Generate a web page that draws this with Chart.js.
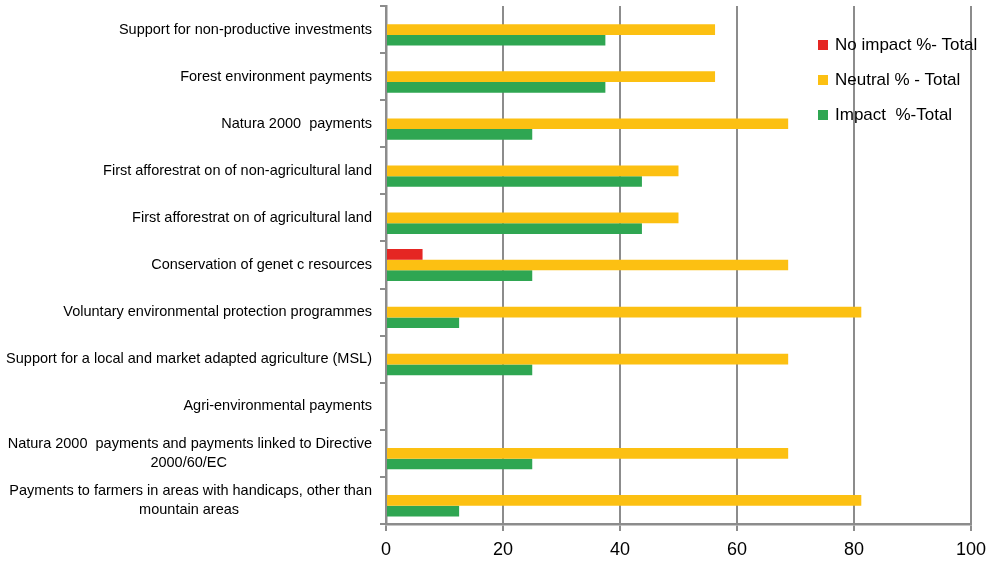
<!DOCTYPE html>
<html>
<head>
<meta charset="utf-8">
<script src="https://cdn.jsdelivr.net/npm/chart.js@4/dist/chart.umd.min.js"></script>
<style>
  html, body { margin: 0; padding: 0; background: #fff; }
  #wrap { position: relative; width: 994px; height: 567px; }
  #legend {
    position: absolute; left: 818px; top: 27px;
    font: 17px "Liberation Sans", Arial, sans-serif; color: #000;
  }
  #legend .item { height: 35px; display: flex; align-items: center; white-space: pre; }
  #legend .box { width: 10px; height: 10px; margin-right: 7px; }
</style>
</head>
<body>
<div id="wrap">
  <canvas id="myChart" width="994" height="567"></canvas>
  <div id="legend"></div>
</div>
<script>
const categories = [
  "Support for non-productive investments",
  "Forest environment payments",
  "Natura 2000  payments",
  "First afforestrat on of non-agricultural land",
  "First afforestrat on of agricultural land",
  "Conservation of genet c resources",
  "Voluntary environmental protection programmes",
  "Support for a local and market adapted agriculture (MSL)",
  "Agri-environmental payments",
  ["Natura 2000  payments and payments linked to Directive", "2000/60/EC"],
  ["Payments to farmers in areas with handicaps, other than", "mountain areas"],
];

const seriesNames = ["No impact %- Total", "Neutral % - Total", "Impact  %-Total"];
const noImpact = [null, null, null, null, null, 6.25, null, null, null, null, null];
const neutral = [56.25, 56.25, 68.75, 50, 50, 68.75, 81.25, 68.75, null, 68.75, 81.25];
const impact = [37.5, 37.5, 25, 43.75, 43.75, 25, 12.5, 25, null, 25, 12.5];
const xTicks = [0, 20, 40, 60, 80, 100];

const colors = ["#E52623", "#FCC012", "#2FA652"];
const AXIS_GRAY = "#8c8c8c";
const FONT = "'Liberation Sans', Arial, sans-serif";
const LABEL_SIZE = 14.5;

// wrapped labels are centred on each other, like the original
const padLines = (lines) => {
  const ctx = document.createElement("canvas").getContext("2d");
  ctx.font = `${LABEL_SIZE}px ${FONT}`;
  const widest = Math.max(...lines.map((l) => ctx.measureText(l).width));
  const space = ctx.measureText(" ").width;
  return lines.map(
    (l) => l + " ".repeat(Math.round((widest - ctx.measureText(l).width) / 2 / space)),
  );
};

Chart.defaults.font.family = FONT;
Chart.defaults.color = "#000";

const chartData = {
  labels: categories.map((c) => (Array.isArray(c) ? padLines(c) : c)),
  datasets: [noImpact, neutral, impact].map((values, i) => ({
    label: seriesNames[i],
    data: values,
    backgroundColor: colors[i],
    borderWidth: 0,
  })),
};

const config = {
  type: "bar",
  data: chartData,
  options: {
    indexAxis: "y",
    responsive: false,
    animation: false,
    layout: { padding: { top: 6, right: 23, left: 0, bottom: 0 } },
    datasets: { bar: { categoryPercentage: 0.68, barPercentage: 1 } },
    plugins: { legend: { display: false }, tooltip: { enabled: false } },
    scales: {
      x: {
        min: 0,
        max: 100,
        afterBuildTicks: (scale) => {
          scale.ticks = xTicks.map((v) => ({ value: v }));
        },
        ticks: { font: { size: 18 }, padding: 8, maxRotation: 0 },
        grid: { color: AXIS_GRAY, lineWidth: 2, tickLength: 7 },
        border: { color: AXIS_GRAY, width: 2.5 },
        afterFit: (scale) => {
          scale.height = 43;
        },
      },
      y: {
        ticks: { font: { size: LABEL_SIZE, lineHeight: 1.3 }, padding: 8, autoSkip: false },
        grid: { drawOnChartArea: false, color: AXIS_GRAY, lineWidth: 2, tickLength: 6 },
        border: { color: AXIS_GRAY, width: 2.5 },
        afterFit: (scale) => {
          scale.width = 386;
          scale.paddingTop = 0;
          scale.paddingBottom = 0;
        },
      },
    },
  },
};

const ctx = document.getElementById("myChart").getContext("2d");
new Chart(ctx, config);

const legend = document.getElementById("legend");
seriesNames.forEach((name, i) => {
  const item = document.createElement("div");
  item.className = "item";
  const box = document.createElement("span");
  box.className = "box";
  box.style.background = colors[i];
  item.appendChild(box);
  item.appendChild(document.createTextNode(name));
  legend.appendChild(item);
});
</script>
</body>
</html>
